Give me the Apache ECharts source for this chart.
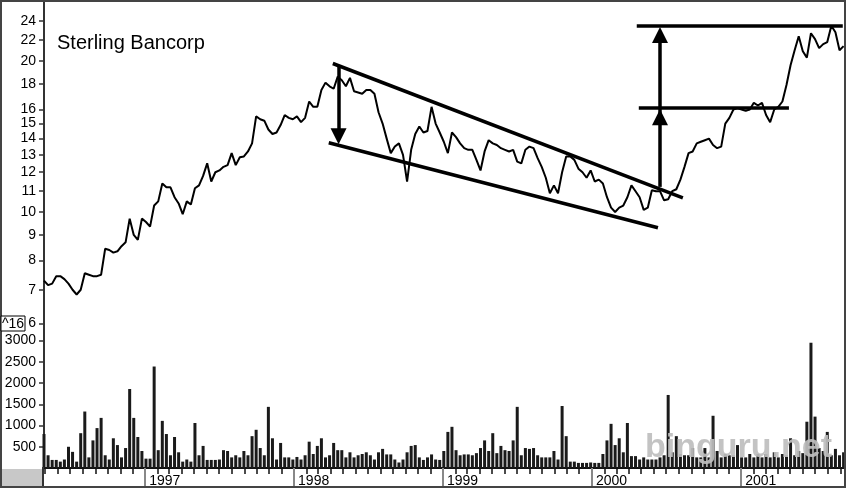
<!DOCTYPE html>
<html><head><meta charset="utf-8">
<script src="https://cdn.jsdelivr.net/npm/echarts@6/dist/echarts.min.js"></script>
<style>html,body{margin:0;padding:0;background:#fff}#c{width:846px;height:488px}</style>
</head><body><div id="c"></div>
<script>
const title = 'Sterling Bancorp';
const watermark = 'binguru.net';
const cornerTag = '^16';
const startDate = [1996, 3, 28];
const stepDays = 10;
const totalDays = 1961;

const prices = [7.3,7.15,7.2,7.45,7.45,7.35,7.2,7.0,6.85,7.0,
7.55,7.5,7.45,7.45,7.5,8.45,8.4,8.3,8.35,8.55,
8.7,9.7,9.0,8.8,9.7,9.55,9.35,10.3,10.5,11.4,
11.2,11.2,10.7,10.4,9.9,10.5,10.35,11.15,11.3,11.8,
12.5,11.5,12.0,12.1,12.3,12.4,13.1,12.4,12.85,12.9,
13.2,13.7,15.5,15.3,15.2,14.6,14.3,14.4,14.9,15.6,
15.4,15.3,15.5,15.1,15.4,16.6,16.2,16.2,17.5,18.1,
17.8,17.6,18.6,18.3,17.8,18.5,17.4,17.3,17.2,17.5,
17.5,17.2,15.8,15.0,14.0,13.1,13.5,13.7,13.0,11.5,
13.3,14.3,14.8,14.4,14.5,16.2,15.0,14.4,13.8,13.1,
14.4,14.1,13.7,13.4,13.3,13.3,12.7,12.1,13.2,13.9,
13.7,13.6,13.4,13.3,13.2,13.3,12.6,12.5,13.3,13.5,
13.4,12.8,12.3,11.7,10.9,11.3,10.9,12.0,12.9,12.9,
12.7,12.2,12.0,11.7,12.1,11.5,11.6,11.4,10.7,10.2,
10.0,10.2,10.3,10.7,11.3,11.0,10.7,10.1,10.2,11.05,
11.0,11.0,10.55,10.6,11.0,11.1,11.6,12.3,13.1,13.2,
13.7,13.8,13.9,14.0,13.6,13.4,13.5,15.0,15.4,16.0,
16.1,16.0,15.9,16.0,16.5,16.3,16.5,15.6,15.1,16.0,
16.2,16.6,17.9,19.6,21.0,22.4,20.9,20.3,22.7,22.1,
21.2,21.6,21.8,23.5,22.8,21.0,21.4];

const volumes = [800,300,190,190,150,200,500,380,150,820,
1330,250,650,940,1180,300,200,700,540,250,
470,1860,1180,730,400,220,220,2390,420,1110,
800,300,730,370,150,200,150,1060,300,520,
190,190,190,200,420,400,250,300,250,400,
300,750,900,470,300,1440,700,200,590,250,
250,200,260,200,300,620,330,520,700,250,
300,590,420,420,250,370,250,300,330,370,
300,200,370,450,320,320,200,130,200,370,
520,540,250,190,250,320,200,190,400,850,
970,420,300,320,320,300,350,470,650,400,
820,350,520,420,400,650,1440,300,470,450,
470,300,250,250,250,400,200,1460,750,150,
150,120,120,120,130,120,120,330,650,1040,
540,700,370,1060,280,280,200,250,200,200,
200,250,300,1720,370,750,330,300,300,470,
250,250,470,250,1230,400,250,330,300,300,
540,250,250,330,250,330,250,330,250,370,
250,330,300,700,300,400,350,1090,2950,1210,
470,400,850,300,450,300,370];

const priceTicks = [6,7,8,9,10,11,12,13,14,15,16,18,20,22,24];
const priceMinorTicks = [6.5,7.5,8.5,9.5,10.5,11.5,12.5,13.5,14.5,15.5,16.5,17,17.5,18.5,19,19.5,20.5,21,21.5,22.5,23,23.5,24.5,25,25.5,26];
const volumeTicks = [500,1000,1500,2000,2500,3000];
const yearTicks = [1997,1998,1999,2000,2001];

// annotations: [date, price]
const channelUpper = [['1998-04-06',19.76],['2000-08-11',10.67]];
const channelLower = [['1998-03-27',13.74],['2000-06-11',9.30]];
const arrowDown = [['1998-04-20',19.48],['1998-04-20',14.16]];
const arrowUp1 = [['2000-06-16',11.22],['2000-06-16',15.45]];
const arrowUp2 = [['2000-06-16',15.45],['2000-06-16',22.52]];
const targetTop = [['2000-04-20',23.53],['2001-09-07',23.53]];
const targetMid = [['2000-04-25',16.14],['2001-04-28',16.14]];

const DAY = 86400000;
const ts = s => { const p = s.split('-').map(Number); return new Date(p[0], p[1] - 1, p[2]).getTime(); };
const t0 = new Date(startDate[0], startDate[1], startDate[2]).getTime();
const tMax = t0 + totalDays * DAY;
const priceData = prices.map((p, i) => [t0 + i * stepDays * DAY, p]);
const volData = volumes.map((v, i) => [t0 + i * stepDays * DAY, v]);
const yearTs = yearTicks.map(y => new Date(y, 0, 1).getTime());
const monthTicks = [];
for (let y = 1996; y <= 2001; y++) for (let m = 0; m < 12; m++) {
  const t = new Date(y, m, 1).getTime();
  if (t > t0 && t < tMax) monthTicks.push(t);
}
const volMinor = [];
for (let v = 100; v <= 3200; v += 100) if (v % 500) volMinor.push(v);

function seg(pair, arrow) {
  return [{coord: [ts(pair[0][0]), pair[0][1]], symbol: 'none'},
          {coord: [ts(pair[1][0]), pair[1][1]], symbol: arrow ? 'triangle' : 'none'}];
}

const FONT = '"Liberation Sans", Arial, Helvetica, sans-serif';
const chart = echarts.init(document.getElementById('c'), null, {renderer: 'canvas'});
chart.setOption({
  animation: false,
  backgroundColor: '#fff',
  textStyle: {fontFamily: FONT},
  grid: [
    {left: 44, right: 2, top: 2, height: 328},
    {left: 44, right: 2, top: 330, height: 138}
  ],
  xAxis: [
    {type: 'value', gridIndex: 0, min: t0, max: tMax, show: false},
    {type: 'value', gridIndex: 1, position: 'bottom', min: t0, max: tMax,
      axisLine: {show: true, lineStyle: {color: '#111', width: 2}},
      axisTick: {show: true, customValues: monthTicks, length: 6, lineStyle: {color: '#111', width: 1.5}},
      axisLabel: {show: false}, splitLine: {show: false}},
    {type: 'value', gridIndex: 1, position: 'bottom', offset: 0, min: t0, max: tMax,
      axisLine: {show: false},
      axisTick: {show: true, customValues: yearTs, length: 20, lineStyle: {color: '#888', width: 2}},
      axisLabel: {show: true, customValues: yearTs, formatter: v => String(new Date(v).getFullYear()),
        align: 'left', padding: [0, 0, 0, 4], margin: 6, fontSize: 14, color: '#000', fontFamily: FONT},
      splitLine: {show: false}}
  ],
  yAxis: [
    {type: 'log', logBase: 10, gridIndex: 0, min: 5.82, max: 26.2,
      axisLine: {show: true, lineStyle: {color: '#333', width: 2}},
      axisTick: {show: true, customValues: priceTicks, length: 5, lineStyle: {color: '#333', width: 1.5}},
      axisLabel: {customValues: priceTicks, formatter: v => String(Math.round(v)), fontSize: 14, color: '#000', margin: 8, fontFamily: FONT},
      splitLine: {show: false}},
    {type: 'log', logBase: 10, gridIndex: 0, min: 5.82, max: 26.2,
      axisLine: {show: false},
      axisTick: {show: true, customValues: priceMinorTicks, length: 3, lineStyle: {color: '#555', width: 1}},
      axisLabel: {show: false}, splitLine: {show: false}},
    {type: 'value', gridIndex: 1, min: 0, max: 3250,
      axisLine: {show: true, lineStyle: {color: '#333', width: 2}},
      axisTick: {show: true, customValues: volumeTicks, length: 5, lineStyle: {color: '#333', width: 1.5}},
      axisLabel: {customValues: volumeTicks, formatter: v => String(v), fontSize: 14, color: '#000', margin: 8, fontFamily: FONT},
      splitLine: {show: false}},
    {type: 'value', gridIndex: 1, min: 0, max: 3250,
      axisLine: {show: false},
      axisTick: {show: true, customValues: volMinor, length: 3, lineStyle: {color: '#555', width: 1}},
      axisLabel: {show: false}, splitLine: {show: false}}
  ],
  series: [
    {type: 'line', xAxisIndex: 0, yAxisIndex: 0, data: priceData, showSymbol: false, symbol: 'none',
      lineStyle: {color: '#000', width: 2}, z: 3,
      markLine: {
        silent: true, animation: false, symbol: ['none', 'none'], symbolSize: 16,
        label: {show: false},
        lineStyle: {color: '#000', width: 3.5, type: 'solid'},
        itemStyle: {color: '#000'},
        emphasis: {disabled: true},
        data: [seg(channelUpper), seg(channelLower), seg(arrowDown, true), seg(arrowUp1, true), seg(arrowUp2, true), seg(targetTop), seg(targetMid)]
      }},
    {type: 'bar', xAxisIndex: 1, yAxisIndex: 2, data: volData, barWidth: 3, itemStyle: {color: '#1a1a1a'}}
  ],
  graphic: [
    {type: 'rect', shape: {x: 0, y: 469, width: 43, height: 19}, style: {fill: '#c8c8c8'}, z: 10},
    {type: 'line', shape: {x1: 43, y1: 467, x2: 43, y2: 488}, style: {stroke: '#333', lineWidth: 2}, z: 11},
    {type: 'rect', shape: {x: 1, y: 1, width: 844, height: 486}, style: {fill: 'none', stroke: '#444', lineWidth: 2}, z: 12},
    {type: 'text', x: 57, y: 43, style: {text: title, fontSize: 20, fontFamily: FONT, fill: '#000', verticalAlign: 'middle'}, z: 12},
    {type: 'rect', shape: {x: 1, y: 316, width: 24, height: 15}, style: {fill: '#fff', stroke: '#000', lineWidth: 1}, z: 12},
    {type: 'text', x: 2, y: 324, style: {text: cornerTag, fontSize: 14, fontFamily: FONT, fill: '#000', verticalAlign: 'middle'}, z: 13},
    {type: 'text', x: 645, y: 448, style: {text: watermark, fontSize: 34, fontWeight: 'bold', fontFamily: FONT, fill: 'rgba(190,190,190,0.92)', verticalAlign: 'middle'}, z: 20}
  ]
});
</script></body></html>
